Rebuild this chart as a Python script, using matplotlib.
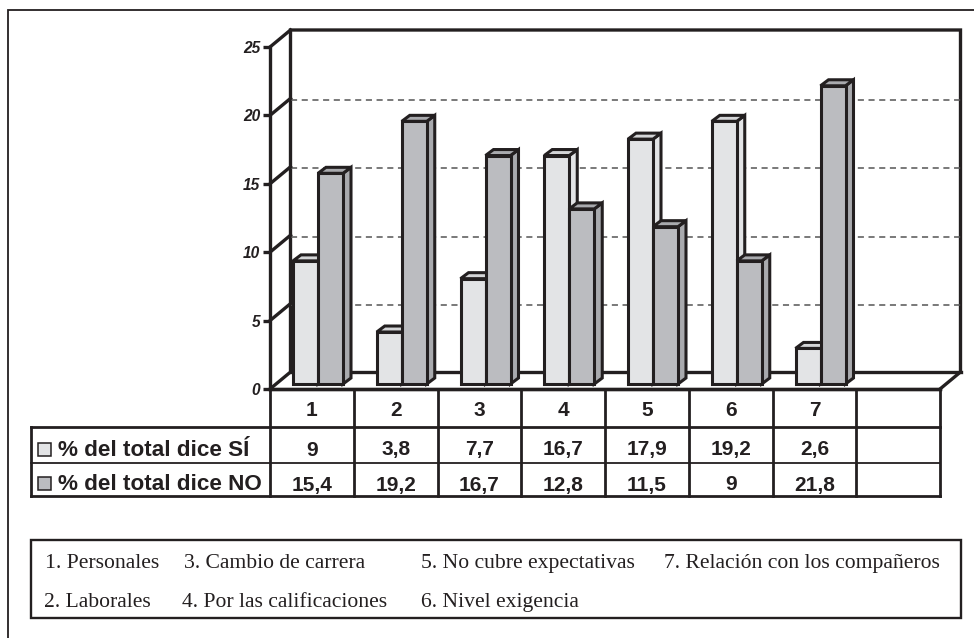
from matplotlib import pyplot as plt
from matplotlib.patches import Polygon, Rectangle

# Datos
categories = ['1', '2', '3', '4', '5', '6', '7']
si_values = [9, 3.8, 7.7, 16.7, 17.9, 19.2, 2.6]
no_values = [15.4, 19.2, 16.7, 12.8, 11.5, 9, 21.8]
si_labels = ['9', '3,8', '7,7', '16,7', '17,9', '19,2', '2,6']
no_labels = ['15,4', '19,2', '16,7', '12,8', '11,5', '9', '21,8']
y_ticks = [0, 5, 10, 15, 20, 25]
series_names = ['% del total dice SÍ', '% del total dice NO']
notes_row1 = ['1. Personales', '3. Cambio de carrera', '5. No cubre expectativas', '7. Relación con los compañeros']
notes_row2 = ['2. Laborales', '4. Por las calificaciones', '6. Nivel exigencia']

INK = '#231f20'
SI_FACE, SI_TOP = '#e3e4e6', '#d4d5d7'
NO_FACE, NO_TOP, NO_SIDE = '#bbbcc0', '#a9aaae', '#a9aaae'
W, H = 974, 638
THICK = 2.4
BAR_LW = 2.2

fig = plt.figure(figsize=(W / 100, H / 100), dpi=100)

# capa en pixeles para el marco, la tabla y las notas
page = fig.add_axes([0, 0, 1, 1])
page.set_xlim(0, W)
page.set_ylim(H, 0)
page.axis('off')

# ejes del grafico (plano frontal)
X0, X1, Y0, Y25 = 270, 940, 389, 47
ax = fig.add_axes([X0 / W, 1 - Y0 / H, (X1 - X0) / W, (Y0 - Y25) / H])
ax.set_xlim(0, 8)
ax.set_ylim(0, 25)
ax.patch.set_alpha(0)
px_x = 8 / (X1 - X0)
px_y = 25 / (Y0 - Y25)
wall_dx, wall_dy = 20.5 * px_x, 17 * px_y
bar_dx, bar_dy = 8 * px_x, 6 * px_y
floor = 5 * px_y
bar_w = 25 * px_x
first = 48 * px_x

for s in ['top', 'right']:
    ax.spines[s].set_visible(False)
for s in ['left', 'bottom']:
    ax.spines[s].set_linewidth(THICK)
    ax.spines[s].set_color(INK)
ax.set_xticks([])
ax.set_yticks(y_ticks)
ax.set_yticklabels([str(t) for t in y_ticks], fontfamily='Liberation Sans', fontweight='bold',
                   fontstyle='italic', fontsize=11.2, color=INK)
ax.tick_params(axis='y', length=5, width=THICK, color=INK, pad=2)

# paredes y suelo
ax.plot([0, wall_dx, wall_dx, 8 + wall_dx, 8 + wall_dx, 8],
        [0, wall_dy, 25 + wall_dy, 25 + wall_dy, wall_dy, 0],
        color=INK, lw=THICK, clip_on=False, solid_joinstyle='miter', zorder=1)
ax.plot([wall_dx, 8 + wall_dx], [wall_dy, wall_dy], color=INK, lw=THICK, clip_on=False, zorder=1)
for t in y_ticks[1:-1]:
    ax.plot([wall_dx, 8 + wall_dx], [t + wall_dy - 0.1, t + wall_dy - 0.1], color='#555555', lw=1.1,
            dashes=(4, 3), clip_on=False, zorder=1)
for t in y_ticks[1:]:
    ax.plot([0, wall_dx], [t, t + wall_dy], color=INK, lw=THICK, clip_on=False, zorder=1)


def bar3d(left, value, face, top, side, z):
    y_top = floor + value
    right = left + bar_w
    ax.add_patch(Polygon([(right, floor), (right + bar_dx, floor + bar_dy),
                          (right + bar_dx, y_top + bar_dy), (right, y_top)],
                         fc=side, ec=INK, lw=BAR_LW, clip_on=False, zorder=z, joinstyle='miter'))
    ax.add_patch(Polygon([(left, y_top), (left + bar_dx, y_top + bar_dy),
                          (right + bar_dx, y_top + bar_dy), (right, y_top)],
                         fc=top, ec=INK, lw=BAR_LW, clip_on=False, zorder=z, joinstyle='miter'))
    ax.bar(left, value, width=bar_w, bottom=floor, align='edge', color=face, edgecolor=INK,
           linewidth=BAR_LW, clip_on=False, zorder=z)


for i, (si, no) in enumerate(zip(si_values, no_values)):
    bar3d(i + first - bar_w, si, SI_FACE, SI_TOP, SI_FACE, 3 + i * 2)
    bar3d(i + first, no, NO_FACE, NO_TOP, NO_SIDE, 4 + i * 2)

# marco exterior
page.plot([W, 8, 8], [10, 10, H], color=INK, lw=1.3, solid_joinstyle='miter')

# tabla
col_x = [X0 + (X1 - X0) * i / 8 for i in range(9)]
row_y = [389, 427, 463, 496]
TX = 31
for x in col_x:
    page.plot([x, x], [row_y[0], row_y[3]], color=INK, lw=2.0)
page.plot([TX, TX], [row_y[1], row_y[3]], color=INK, lw=2.0)
page.plot([X0, X1], [row_y[0], row_y[0]], color=INK, lw=THICK)
page.plot([TX, X1], [row_y[1], row_y[1]], color=INK, lw=2.0)
page.plot([TX, X1], [row_y[2], row_y[2]], color=INK, lw=1.3)
page.plot([TX, X1], [row_y[3], row_y[3]], color=INK, lw=2.0)

cell_font = dict(fontfamily='Liberation Sans', fontweight='bold', fontsize=15, color=INK,
                 ha='center', va='baseline')
for i in range(7):
    cx = (col_x[i] + col_x[i + 1]) / 2
    page.text(cx, 416.5, categories[i], **cell_font)
    page.text(cx, 455.5, si_labels[i], **cell_font)
    page.text(cx, 490.5, no_labels[i], **cell_font)

for name, yc, face, base in zip(series_names, [449.5, 483.5], [SI_FACE, NO_FACE], [456, 490.5]):
    page.add_patch(Rectangle((37.5, yc - 6.5), 13, 13, fc=face, ec=INK, lw=1.1))
    page.text(58, base, name, fontfamily='Liberation Sans', fontweight='bold', fontsize=16.2,
              color=INK, ha='left', va='baseline')

# notas
page.add_patch(Rectangle((31, 540), 930, 78, fc='none', ec=INK, lw=1.7))
note_font = dict(fontfamily='Liberation Serif', fontsize=15.6, color=INK, ha='left', va='baseline')
for x, label in zip([45, 184, 421, 664], notes_row1):
    page.text(x, 568, label, **note_font)
for x, label in zip([44, 182, 421], notes_row2):
    page.text(x, 607, label, **note_font)

plt.savefig('out.png', dpi=100)
